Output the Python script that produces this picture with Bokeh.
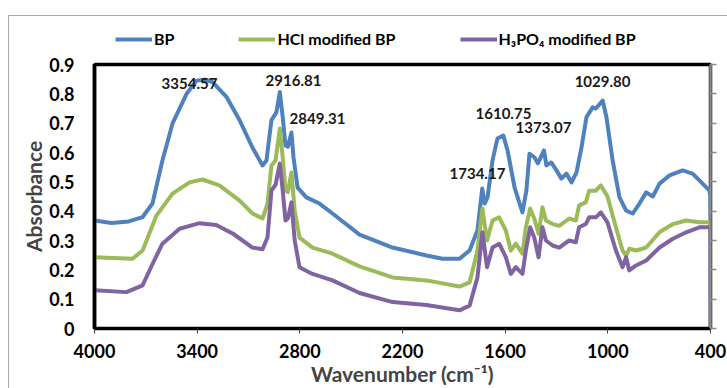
from bokeh.plotting import figure
from bokeh.layouts import column
from bokeh.models import (Range1d, LinearAxis, FixedTicker, Legend, LegendItem,
                          ColumnDataSource)
from bokeh.core.properties import value
from bokeh.embed import file_html
from bokeh.resources import INLINE

# FTIR spectra: wavenumber (cm-1) and absorbance
bp_wn = [4000, 3900, 3800, 3719, 3661, 3603, 3544, 3462, 3404, 3355, 3310, 3229,
         3152, 3077, 3018, 2995, 2966, 2937, 2917, 2900, 2884, 2870, 2849, 2837,
         2813, 2762, 2685, 2609, 2451, 2258, 2060, 1966, 1867, 1808, 1762, 1734,
         1720, 1703, 1674, 1645, 1611, 1586, 1545, 1499, 1476, 1458, 1428, 1409,
         1373, 1359, 1331, 1300, 1271, 1242, 1212, 1183, 1154, 1125, 1089, 1070,
         1030, 1008, 972, 932, 893, 855, 815, 776, 737, 698, 639, 563, 505, 446,
         406, 401, 400]
bp_abs = [0.368, 0.36, 0.365, 0.38, 0.426, 0.573, 0.699, 0.80, 0.845, 0.848, 0.84, 0.79,
          0.71, 0.617, 0.556, 0.573, 0.71, 0.737, 0.806, 0.72, 0.624, 0.62, 0.668, 0.583,
          0.48, 0.447, 0.426, 0.392, 0.32, 0.276, 0.249, 0.238, 0.238, 0.266, 0.334, 0.477,
          0.426, 0.447, 0.573, 0.648, 0.658, 0.607, 0.48, 0.396, 0.47, 0.596, 0.583, 0.563,
          0.607, 0.556, 0.566, 0.539, 0.511, 0.528, 0.498, 0.532, 0.617, 0.72, 0.754, 0.75,
          0.777, 0.72, 0.573, 0.447, 0.402, 0.392, 0.426, 0.464, 0.45, 0.494, 0.522, 0.539,
          0.528, 0.494, 0.47, 0.45, 0.38]

hcl_wn = [4000, 3778, 3719, 3638, 3544, 3445, 3369, 3270, 3152, 3077, 3018, 2989,
          2966, 2942, 2917, 2900, 2884, 2870, 2849, 2830, 2802, 2726, 2609, 2451,
          2258, 2060, 1867, 1808, 1762, 1733, 1706, 1674, 1635, 1596, 1567, 1538,
          1499, 1479, 1454, 1430, 1405, 1382, 1362, 1323, 1284, 1226, 1187, 1168,
          1129, 1109, 1070, 1041, 1002, 953, 914, 893, 875, 835, 776, 698, 620,
          542, 465, 406, 401, 400]
hcl_abs = [0.243, 0.238, 0.266, 0.385, 0.46, 0.498, 0.508, 0.488, 0.436, 0.392, 0.375, 0.426,
           0.556, 0.573, 0.682, 0.583, 0.47, 0.465, 0.532, 0.402, 0.31, 0.276, 0.255, 0.212,
           0.174, 0.164, 0.143, 0.157, 0.266, 0.409, 0.30, 0.368, 0.379, 0.334, 0.266, 0.289,
           0.255, 0.345, 0.409, 0.375, 0.323, 0.413, 0.368, 0.356, 0.35, 0.375, 0.368, 0.42,
           0.43, 0.47, 0.47, 0.488, 0.45, 0.345, 0.266, 0.249, 0.272, 0.266, 0.276, 0.328, 0.356,
           0.368, 0.362, 0.362, 0.35, 0.31]

h3po4_wn = [4000, 3813, 3719, 3661, 3603, 3503, 3386, 3289, 3190, 3077, 3018, 2989,
            2966, 2942, 2917, 2900, 2884, 2870, 2849, 2830, 2802, 2726, 2609, 2451,
            2258, 2060, 1867, 1808, 1762, 1733, 1706, 1674, 1635, 1596, 1567, 1538,
            1499, 1479, 1454, 1430, 1405, 1382, 1362, 1323, 1284, 1226, 1187, 1168,
            1129, 1109, 1070, 1041, 1002, 953, 914, 893, 875, 835, 776, 698, 620,
            542, 465, 406, 401, 400]
h3po4_abs = [0.13, 0.124, 0.147, 0.22, 0.289, 0.34, 0.359, 0.353, 0.323, 0.276, 0.27, 0.31,
             0.47, 0.49, 0.562, 0.47, 0.368, 0.375, 0.43, 0.30, 0.209, 0.186, 0.164, 0.121,
             0.09, 0.08, 0.062, 0.078, 0.174, 0.328, 0.209, 0.276, 0.289, 0.243, 0.186, 0.209,
             0.186, 0.266, 0.345, 0.31, 0.243, 0.345, 0.30, 0.283, 0.276, 0.30, 0.294, 0.345,
             0.356, 0.379, 0.379, 0.396, 0.362, 0.266, 0.209, 0.243, 0.198, 0.215, 0.232, 0.276,
             0.306, 0.328, 0.345, 0.345, 0.34, 0.0]

series_names = ["BP", "HCl modified BP", "H\u2083PO\u2084 modified BP"]
series_colors = ["#4F81BD", "#9BBB59", "#8064A2"]

# Peak annotations (text and anchor point in data coordinates)
peak_text = ["3354.57", "2916.81", "2849.31", "1734.17", "1610.75", "1373.07", "1029.80"]
peak_lab_x = [3445, 2837, 2697, 1762, 1610, 1376, 1031]
peak_lab_y = [0.835, 0.846, 0.716, 0.528, 0.733, 0.685, 0.842]

x_ticks = [4000, 3400, 2800, 2200, 1600, 1000, 400]
y_ticks = [0, 0.1, 0.2, 0.3, 0.4, 0.5, 0.6, 0.7, 0.8, 0.9]
y_tick_labels = ["0", "0.1", "0.2", "0.3", "0.4", "0.5", "0.6", "0.7", "0.8", "0.9"]

FONT = "Lato"
W = 718
spectra = list(zip([bp_wn, hcl_wn, h3po4_wn], [bp_abs, hcl_abs, h3po4_abs], series_colors))

# ---- main spectrum plot ----
p = figure(width=W, height=344, output_backend="svg", toolbar_location=None,
           x_range=Range1d(4000, 400), y_range=Range1d(0, 0.9),
           min_border_left=85, min_border_right=17, min_border_top=14, min_border_bottom=66,
           x_axis_label="Wavenumber (cm\u207B\u00B9)", y_axis_label="Absorbance")
p.outline_line_color = "black"
p.outline_line_width = 3.5
p.xgrid.visible = False
p.ygrid.visible = False
p.background_fill_color = "white"
p.border_fill_color = "white"

for wn, ab, c in spectra:
    p.line(wn, ab, line_color=c, line_width=4, line_join="round")

# bottom axis
xa = p.xaxis[0]
xa.ticker = FixedTicker(ticks=x_ticks)
xa.minor_tick_line_color = None
xa.major_tick_in = 0
xa.major_tick_out = 5
xa.major_tick_line_color = "#404040"
xa.axis_line_color = "black"
xa.axis_line_width = 2.5
xa.major_label_standoff = 10
xa.major_label_text_font = FONT
xa.major_label_text_font_style = "bold"
xa.major_label_text_font_size = "18px"
xa.major_label_text_color = "black"
xa.axis_label_text_font = FONT
xa.axis_label_text_font_style = "bold"
xa.axis_label_text_font_size = "21px"
xa.axis_label_standoff = 0

# left axis
ya = p.yaxis[0]
ya.ticker = FixedTicker(ticks=y_ticks)
ya.major_label_overrides = {t: s for t, s in zip(y_ticks, y_tick_labels)}
ya.minor_tick_line_color = None
ya.major_tick_line_color = None
ya.major_tick_in = 0
ya.major_tick_out = 0
ya.axis_line_color = "black"
ya.axis_line_width = 3.5
ya.major_label_standoff = 20
ya.major_label_text_font = FONT
ya.major_label_text_font_style = "bold"
ya.major_label_text_font_size = "18px"
ya.major_label_text_color = "black"
ya.axis_label_text_font = FONT
ya.axis_label_text_font_style = "bold"
ya.axis_label_text_font_size = "21px"
ya.axis_label_standoff = 0

# right frame edge: grey line with outward ticks, no labels
right = LinearAxis(ticker=FixedTicker(ticks=y_ticks),
                   axis_line_color="#8c8c8c", axis_line_width=2.5,
                   major_tick_line_color="#8c8c8c", major_tick_line_width=1.5,
                   major_tick_in=0, major_tick_out=6,
                   minor_tick_line_color=None, major_label_standoff=0,
                   major_label_overrides={t: "" for t in y_ticks})
p.add_layout(right, "right")

# peak labels
src = ColumnDataSource(dict(x=peak_lab_x, y=peak_lab_y, t=peak_text))
p.text("x", "y", text="t", source=src, text_font=value(FONT), text_font_style="bold",
       text_font_size="15px", text_align="center", text_baseline="middle", text_color="#1a1a1a")

# ---- legend strip above the plot ----
lg = figure(width=W, height=34, output_backend="svg", toolbar_location=None,
            x_range=Range1d(0, 1), y_range=Range1d(0, 1), min_border=0)
lg.axis.visible = False
lg.grid.visible = False
lg.outline_line_color = None
lg.background_fill_color = "white"
lg.border_fill_color = "white"
# same series drawn here only to feed the legend swatches (outside this strip's range)
swatches = [lg.line(wn, ab, line_color=c, line_width=4) for wn, ab, c in spectra]
legend = Legend(items=[LegendItem(label=n, renderers=[r]) for n, r in zip(series_names, swatches)],
                location=(21, 2), orientation="horizontal", spacing=64,
                glyph_width=37, glyph_height=14, label_height=14, label_standoff=2, padding=0,
                margin=0, border_line_color=None, background_fill_alpha=0,
                label_text_font=FONT, label_text_font_style="bold", label_text_font_size="16px",
                label_text_color="black")
lg.add_layout(legend, "center")

layout = column(lg, p, spacing=0)
layout.margin = (15, 0, 0, 8)
layout.styles = {"border-left": "1.5px solid #a8a8a8", "border-top": "1.5px solid #a8a8a8"}

open("out.html", "w").write(file_html(layout, INLINE))
